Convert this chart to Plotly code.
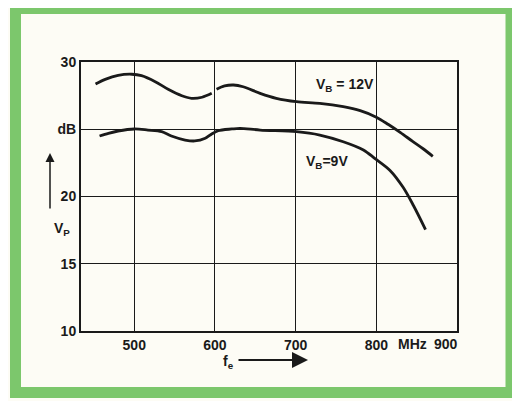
import plotly.graph_objects as go

# curve read-offs (MHz, dB)
freq_12v = [452, 464, 480, 497, 509, 526, 542, 559, 571, 584, 596, None,
            602, 612, 623, 635, 656, 676, 701, 730, 759, 780, 800, 815, 830, 845, 858, 870]
vp_12v = [28.36, 28.71, 29.01, 29.09, 28.98, 28.54, 27.97, 27.49, 27.30, 27.38, 27.67, None,
          27.97, 28.22, 28.29, 28.16, 27.67, 27.30, 27.05, 26.93, 26.68, 26.38, 25.9, 25.35, 24.75, 24.1, 23.55, 22.99]

freq_9v = [457, 468, 480, 500, 517, 534, 546, 563, 575, 588, 596, 604, 621, 631,
           656, 701, 730, 759, 784, 798, 817, 833, 846, 861]
vp_9v = [24.50, 24.70, 24.87, 25.02, 24.94, 24.82, 24.50, 24.20, 24.13, 24.33, 24.65, 24.89, 25.02, 25.07,
         24.94, 24.82, 24.57, 24.07, 23.46, 22.84, 21.94, 20.7, 19.33, 17.54]

x_ticks = [500, 600, 700, 800]
x_tick_text = ['500', '600', '700', '800']
y_ticks = [10, 15, 20, 25, 30]
y_tick_text = ['10', '15', '20', 'dB', '30']
unit_label = 'MHz'
last_x_label = '900'

W, H = 520, 401
L, R, T, B = 73, 449, 54, 323  # plot area in figure pixels (page has 8px body margin)

def px(xp):
    return (xp - L) / (R - L)

def py(yp):
    return (B - yp) / (B - T)

ink = '#1a1a1a'
font_b = dict(family='Liberation Sans, Arial, sans-serif', size=14, color=ink)

fig = go.Figure()
fig.add_trace(go.Scatter(x=freq_12v, y=vp_12v, mode='lines', line=dict(color=ink, width=2.8, shape='spline', smoothing=0.9),
                         connectgaps=False, showlegend=False, hoverinfo='skip'))
fig.add_trace(go.Scatter(x=freq_9v, y=vp_9v, mode='lines', line=dict(color=ink, width=2.8, shape='spline', smoothing=0.9),
                         showlegend=False, hoverinfo='skip'))

fig.update_layout(width=W, height=H, margin=dict(l=L, r=W - R, t=T, b=H - B),
                  plot_bgcolor='#fdfcf5', paper_bgcolor='#fdfcf5', font=font_b)
fig.update_xaxes(range=[434, 900], tickvals=x_ticks, ticktext=['<b>%s</b>' % t for t in x_tick_text],
                 showgrid=True, gridcolor=ink, gridwidth=1.3, showline=True, linecolor=ink,
                 linewidth=2, mirror=True, zeroline=False, ticks='', fixedrange=True)
fig.update_yaxes(range=[10, 30], tickvals=y_ticks, ticktext=['<b>%s</b>' % t for t in y_tick_text],
                 showgrid=True, gridcolor=ink, gridwidth=1.3, showline=True, linecolor=ink,
                 linewidth=2, mirror=True, zeroline=False, ticks='', fixedrange=True)

# green frame
fig.add_shape(type='rect', xref='paper', yref='paper', x0=px(7.5), x1=px(503), y0=py(384.5), y1=py(0.5),
              line=dict(color='#7cc76c', width=11), layer='below')

# extra x labels
fig.add_annotation(x=845, y=10, xref='x', yref='y', yshift=-13, text='<b>%s</b>' % unit_label, showarrow=False, font=font_b)
fig.add_annotation(x=886, y=10, xref='x', yref='y', yshift=-13, text='<b>%s</b>' % last_x_label, showarrow=False, font=font_b)

# curve labels
fig.add_annotation(x=761, y=28.3, text='<b>V<sub>B</sub> = 12V</b>', showarrow=False, font=font_b)
fig.add_annotation(x=739, y=22.6, text='<b>V<sub>B</sub>=9V</b>', showarrow=False, font=font_b)

# axis titles with arrows
fig.add_annotation(x=px(42), y=py(145), xref='paper', yref='paper', ax=0, ay=57, text='', showarrow=True,
                   arrowhead=2, arrowsize=1.2, arrowwidth=1.5, arrowcolor=ink)
fig.add_annotation(x=px(44), y=py(221), xref='paper', yref='paper', text='<b>V<sub>P</sub></b>', showarrow=False, font=font_b)
fig.add_annotation(x=px(300), y=py(352), xref='paper', yref='paper', ax=-71, ay=0, text='', showarrow=True,
                   arrowhead=2, arrowsize=1.6, arrowwidth=2, arrowcolor=ink)
fig.add_annotation(x=px(220), y=py(355), xref='paper', yref='paper', yanchor='middle', yshift=1,
                   text='<b>f<sub>e</sub></b>', showarrow=False, font=font_b)

fig.write_html("out.html")
